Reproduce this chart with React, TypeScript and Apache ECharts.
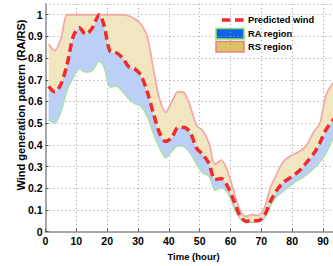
import React, { useEffect, useRef } from "react";
import * as echarts from "echarts";

const hours = [1, 3, 5, 7, 9, 11, 13, 15, 17.5, 19, 21, 23, 25, 27, 29, 31, 33, 35, 37, 39, 41, 43, 45, 47, 49, 51, 53, 55, 57, 59, 61, 63, 65, 67, 69, 71, 73, 75, 77, 79, 81, 83, 85, 87, 89, 91, 93, 95];
const predicted = [0.67, 0.645, 0.68, 0.77, 0.9, 0.94, 0.91, 0.935, 1.0, 0.95, 0.83, 0.825, 0.8, 0.76, 0.75, 0.72, 0.645, 0.545, 0.455, 0.415, 0.435, 0.48, 0.48, 0.455, 0.385, 0.355, 0.315, 0.24, 0.245, 0.21, 0.145, 0.075, 0.047, 0.05, 0.05, 0.075, 0.14, 0.19, 0.225, 0.245, 0.265, 0.29, 0.325, 0.36, 0.41, 0.47, 0.51, 0.54];
const raLower = [0.515, 0.5, 0.55, 0.65, 0.71, 0.75, 0.735, 0.74, 0.785, 0.755, 0.665, 0.67, 0.645, 0.61, 0.59, 0.575, 0.53, 0.45, 0.385, 0.34, 0.37, 0.395, 0.39, 0.36, 0.31, 0.27, 0.255, 0.19, 0.2, 0.18, 0.115, 0.06, 0.045, 0.042, 0.048, 0.06, 0.12, 0.16, 0.185, 0.205, 0.23, 0.245, 0.265, 0.29, 0.32, 0.36, 0.42, 0.46];
const rsUpper = [0.865, 0.835, 0.89, 1.0, 1.0, 1.0, 1.0, 1.0, 1.0, 1.0, 1.0, 1.0, 1.0, 0.995, 0.98, 0.955, 0.9, 0.75, 0.61, 0.55, 0.6, 0.645, 0.64, 0.575, 0.49, 0.465, 0.41, 0.31, 0.33, 0.28, 0.19, 0.1, 0.07, 0.078, 0.075, 0.11, 0.205, 0.265, 0.32, 0.345, 0.36, 0.375, 0.405, 0.46, 0.5, 0.63, 0.68, 0.72];

const legendLabels = ["Predicted wind", "RA region", "RS region"];
const xName = "Time (hour)";
const yName = "Wind generation pattern (RA/RS)";

const FONT = "'Liberation Sans', Arial, Helvetica, sans-serif";

export default function App() {
  const ref = useRef<HTMLDivElement>(null);
  useEffect(() => {
    document.documentElement.style.overflow = "hidden";
    document.body.style.overflow = "hidden";
    const chart = echarts.init(ref.current!, undefined, { renderer: "svg" });
    // value first, hour second, so that stacking is done on the value dimension
    const lowerData = hours.map((t, i) => [raLower[i], t]);
    const raBand = hours.map((t, i) => [predicted[i] - raLower[i], t]);
    const rsBand = hours.map((t, i) => [rsUpper[i] - predicted[i], t]);
    const predData = hours.map((t, i) => [predicted[i], t]);
    const enc = { x: 1, y: 0 };
    const smooth = 0.3;
    chart.setOption({
      animation: false,
      textStyle: { fontFamily: FONT },
      grid: { left: 45.5, right: 8.5, top: 3.9, bottom: 29 },
      xAxis: {
        type: "value",
        min: 0,
        max: 96,
        interval: 10,
        name: xName,
        nameLocation: "middle",
        nameGap: 15,
        nameTextStyle: { fontSize: 9.5, fontWeight: "bold", color: "#000", fontFamily: FONT },
        axisLine: { lineStyle: { color: "#a8a8a8", width: 2 } },
        axisTick: { inside: true, length: 3, lineStyle: { color: "#555" } },
        axisLabel: { margin: 3.5, fontSize: 10.5, fontWeight: "bold", color: "#000", showMaxLabel: false, fontFamily: FONT },
        splitLine: { show: true, lineStyle: { color: "#9a9a9a", type: [1, 3], width: 1 } },
      },
      yAxis: {
        type: "value",
        min: 0,
        max: 1.05,
        interval: 0.1,
        axisLine: { show: true, lineStyle: { color: "#a8a8a8", width: 2 } },
        axisTick: { show: true, inside: true, length: 3, lineStyle: { color: "#555" } },
        axisLabel: {
          margin: 3,
          fontSize: 10.5,
          fontWeight: "bold",
          color: "#000",
          showMaxLabel: false,
          fontFamily: FONT,
          formatter: (v: number) => (Math.abs(v - Math.round(v)) < 1e-9 ? String(Math.round(v)) : v.toFixed(1)),
        },
        splitLine: { show: true, lineStyle: { color: "#9a9a9a", type: [1, 3], width: 1 } },
      },
      series: [
        {
          type: "line",
          name: "RA lower",
          data: lowerData,
          encode: enc,
          stack: "band",
          smooth,
          showSymbol: false,
          lineStyle: { color: "#a6e39a", width: 1.2 },
          z: 3,
        },
        {
          type: "line",
          name: legendLabels[1],
          data: raBand,
          encode: enc,
          stack: "band",
          smooth,
          showSymbol: false,
          lineStyle: { width: 0, opacity: 0 },
          areaStyle: { color: "#bccff6", opacity: 1 },
          z: 2,
        },
        {
          type: "line",
          name: legendLabels[2],
          data: rsBand,
          encode: enc,
          stack: "band",
          smooth,
          showSymbol: false,
          lineStyle: { color: "#f2aaa8", width: 1.8 },
          areaStyle: { color: "#f1e6bf", opacity: 1 },
          z: 2,
        },
        {
          type: "line",
          name: legendLabels[0],
          data: predData,
          encode: enc,
          smooth,
          showSymbol: false,
          lineStyle: { color: "#f22a2a", width: 3.5, type: [8.5, 4.5], cap: "butt" },
          z: 5,
        },
      ],
      graphic: [
        {
          type: "text",
          x: 21,
          y: 105,
          rotation: Math.PI / 2,
          style: { text: yName, align: "center", verticalAlign: "middle", font: `bold 11px ${FONT}`, fill: "#000" },
        },
        {
          type: "line",
          shape: { x1: 222, y1: 20, x2: 244, y2: 20 },
          style: { stroke: "#f22a2a", lineWidth: 3.5, lineDash: [8.5, 4.5] },
        },
        {
          type: "text",
          x: 248,
          y: 20,
          style: { text: legendLabels[0], verticalAlign: "middle", font: `bold 9.3px ${FONT}`, fill: "#000" },
        },
        {
          type: "rect",
          shape: { x: 216, y: 28.5, width: 28, height: 10.5 },
          style: { fill: "#0f62e6", stroke: "#86e36a", lineWidth: 1.5 },
        },
        {
          type: "text",
          x: 248,
          y: 34,
          style: { text: legendLabels[1], verticalAlign: "middle", font: `bold 9.3px ${FONT}`, fill: "#000" },
        },
        {
          type: "rect",
          shape: { x: 216, y: 41.5, width: 28, height: 10.5 },
          style: { fill: "#dcc265", stroke: "#ee8080", lineWidth: 1.5 },
        },
        {
          type: "text",
          x: 248,
          y: 47,
          style: { text: legendLabels[2], verticalAlign: "middle", font: `bold 9.3px ${FONT}`, fill: "#000" },
        },
      ],
    });
    return () => chart.dispose();
  }, []);
  return <div ref={ref} style={{ position: "fixed", left: 0, top: 0, width: 350, height: 266, background: "#fff" }} />;
}
